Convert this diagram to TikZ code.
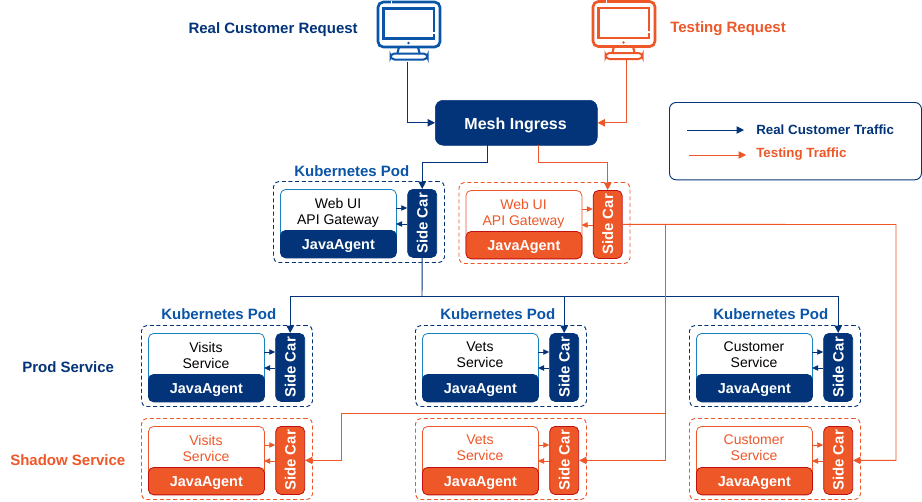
\documentclass[tikz,border=0pt]{standalone}
\usepackage{fontspec}
\setmainfont{Liberation Sans}
\usetikzlibrary{arrows.meta}
\definecolor{navy}{HTML}{03347A}
\definecolor{bluet}{HTML}{0B55A8}
\definecolor{oran}{HTML}{EE5728}
\definecolor{oranb}{HTML}{C00F0F}
\definecolor{skyb}{HTML}{1682C4}
\tikzset{
  x=0.75pt,y=-0.75pt,
  flow/.style={draw=#1,line width=0.7pt,-{Triangle[length=5.5pt,width=5.5pt]}},
  seg/.style={draw=#1,line width=0.7pt},
  mini/.style={draw=#1,line width=0.6pt,-{Triangle[length=4.5pt,width=4pt]}},
  podframe/.style={draw=#1,dash pattern=on 3pt off 2pt,line width=0.7pt,rounded corners=4pt,minimum width=128.25pt,minimum height=60.75pt,inner sep=0pt,anchor=north west},
  appbox/.style={draw=#1,fill=white,line width=0.6pt,rounded corners=4pt,minimum width=87pt,minimum height=51pt,inner sep=0pt,anchor=north west},
  agent/.style 2 args={draw=#1,fill=#2,rounded corners=4pt,line width=0.6pt,minimum width=87pt,minimum height=20.6pt,inner sep=0pt,anchor=north west,text=white,font=\fontsize{10.8pt}{12pt}\selectfont\bfseries},
  sidecar/.style 2 args={draw=#1,fill=#2,rounded corners=4pt,line width=0.6pt,minimum width=21.75pt,minimum height=51pt,inner sep=0pt,anchor=north west},
  sidetext/.style={text=white,rotate=90,inner sep=0pt,font=\fontsize{11.2pt}{12pt}\selectfont\bfseries},
  apptext/.style={text=#1,font=\fontsize{10.5pt}{12pt}\selectfont,align=center,inner sep=0pt},
  podlabel/.style={text=bluet,font=\fontsize{11.25pt}{13pt}\selectfont\bfseries,inner sep=0pt,anchor=west},
  headlabel/.style={text=#1,font=\fontsize{11.25pt}{13pt}\selectfont\bfseries,inner sep=0pt},
  legendlabel/.style={text=#1,font=\fontsize{10pt}{12pt}\selectfont\bfseries,inner sep=0pt,anchor=west},
}
\newcommand{\textdy}{23}
% #1 name, #2 app-left x, #3 app-top y, #4 text, #5 frame and line colour, #6 edge, #7 text colour, #8 app border
\newcommand{\podunit}[8]{%
  \node[podframe=#5] (#1frame) at (#2-7,#3-8) {};
  \node[appbox=#8] (#1app) at (#2,#3) {};
  \node[agent={#6}{#5}] (#1agent) at (#2,#3+41) {\raisebox{-3.75pt}[0pt][0pt]{JavaAgent}};
  \node[apptext=#7] (#1text) at (#2+58,#3+\textdy) {#4};
  \node[sidecar={#6}{#5}] (#1side) at (#2+127.3,#3) {};
  \node[sidetext] (#1sidetext) at (#1side.center) {Side Car};
  \coordinate (#1ina) at (#2+116,#3+19);
  \coordinate (#1inb) at (#2+127.3,#3+19);
  \coordinate (#1outa) at (#2+127.3,#3+35);
  \coordinate (#1outb) at (#2+116,#3+35);
  \draw[mini=#5] (#1ina) -- (#1inb);
  \draw[mini=#5] (#1outa) -- (#1outb);
}
\newcommand{\monitor}[3]{%
  \begin{scope}[shift={(#1,#2)}]
    \draw[#3,line width=2pt,rounded corners=4pt] (1,1.5) rectangle (63,46.5);
    \draw[#3,line width=1.9pt] (6.5,8) rectangle (57,38);
    \fill[#3] (31.5,42.5) circle (1.4);
    \draw[#3,line width=1.6pt] (22,46.5) -- (20.5,52.5) (41,46.5) -- (42.5,52.5);
    \draw[#3,line width=1.5pt,rounded corners=3pt] (13.5,53) rectangle (50.5,59);
    \fill[white] (13.5,0) rectangle (15,3);
    \fill[white] (55,31) rectangle (58.5,33);
  \end{scope}
}
\begin{document}
\begin{tikzpicture}
\useasboundingbox (0,0) rectangle (922,501);
\fill[white] (0,0) rectangle (922,501);

\monitor{377}{0.5}{bluet}
\monitor{592}{0}{oran}
\coordinate (monb) at (407,62);
\coordinate (mono) at (626,59);
\node[headlabel=navy,anchor=east] (realreq) at (358,29.5) {Real Customer Request};
\node[headlabel=oran,anchor=west] (testreq) at (670,28.5) {Testing Request};

\node[fill=navy,draw=navy,rounded corners=6pt,minimum width=121.5pt,minimum height=33.75pt,inner sep=0pt,text=white,font=\fontsize{12pt}{14pt}\selectfont\bfseries,anchor=north west] (mesh) at (435,100) {\hspace*{-1pt}\raisebox{-4.9pt}[0pt][0pt]{Mesh Ingress}};
\coordinate (meshbl) at (487,145);
\coordinate (meshol) at (538,145);

\draw[flow=navy] (monb) |- (mesh.west);
\draw[flow=oran] (mono) |- (mesh.east);

\renewcommand{\textdy}{24}
\podunit{web}{280}{189}{Web UI\\API Gateway}{navy}{navy}{black}{skyb}
\podunit{webo}{465.5}{190}{Web UI\\API Gateway}{oran}{oranb}{oran}{oran}
\renewcommand{\textdy}{22}
\podunit{vis}{148}{333}{Visits\\Service}{navy}{navy}{black}{skyb}
\podunit{vet}{422}{333}{Vets\\Service}{navy}{navy}{black}{skyb}
\podunit{cus}{696}{333}{Customer\\Service}{navy}{navy}{black}{skyb}
\podunit{viso}{148}{426}{Visits\\Service}{oran}{oranb}{oran}{oran}
\podunit{veto}{422}{426}{Vets\\Service}{oran}{oranb}{oran}{oran}
\podunit{cuso}{696}{426}{Customer\\Service}{oran}{oranb}{oran}{oran}

\node[podlabel] (lb1) at (294,171) {Kubernetes Pod};
\node[podlabel] (lb2) at (161,314) {Kubernetes Pod};
\node[podlabel] (lb3) at (440,314) {Kubernetes Pod};
\node[podlabel] (lb4) at (713,314) {Kubernetes Pod};
\node[headlabel=navy,anchor=west] (prod) at (22,367) {Prod Service};
\node[headlabel=oran,anchor=west] (shadow) at (10,460) {Shadow Service};

% ingress to the two top side cars
\coordinate (bendb) at (487,162);
\coordinate (bendo) at (538,162);
\draw[flow=navy] (meshbl) -- (bendb) -| (webside.north);
\draw[flow=oran] (meshol) -- (bendo) -| (weboside.north);

% blue fan-out
\coordinate (busb) at (422,296);
\draw[seg=navy] (webside.south) -- (busb);
\draw[flow=navy] (busb) -| (visside.north);
\draw[flow=navy] (busb) -| (vetside.north);
\draw[flow=navy] (busb) -| (cusside.north);

% orange fan-out
\coordinate (buso) at (665,224.5);
\coordinate (busr) at (896,224.5);
\coordinate (busl) at (341.5,413.5);
\coordinate (busm) at (665,413.5);
\draw[flow=oran] (weboside.east) -- (busr) |- (cusoside.east);
\draw[flow=oran] (buso) |- (vetoside.east);
\draw[flow=oran] (busm) -- (busl) |- (visoside.east);

% legend
\node[draw=navy,line width=0.7pt,rounded corners=5pt,minimum width=189pt,minimum height=58pt,inner sep=0pt,anchor=north west] (legend) at (669,102) {};
\coordinate (lba) at (687,130);
\coordinate (lbb) at (744,130);
\coordinate (loa) at (689,155);
\coordinate (lob) at (746,155);
\draw[flow=navy] (lba) -- (lbb);
\draw[flow=oran] (loa) -- (lob);
\node[legendlabel=navy] (legreal) at (756,130) {Real Customer Traffic};
\node[legendlabel=oran] (legtest) at (756,154.5) {Testing Traffic};
\end{tikzpicture}
\end{document}
